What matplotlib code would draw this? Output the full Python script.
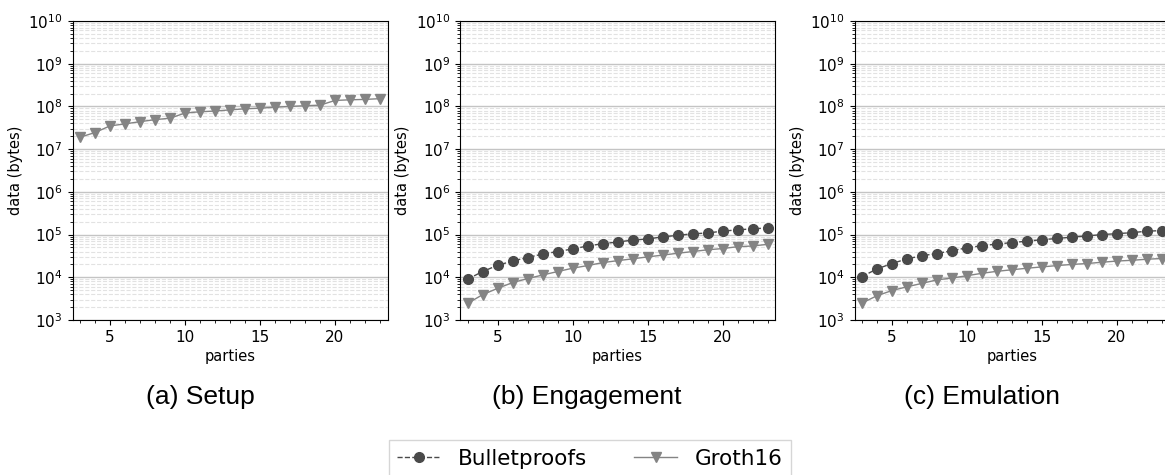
import numpy as np
import matplotlib
matplotlib.use("Agg")
from matplotlib import pyplot as plt
from matplotlib.ticker import LogLocator, MultipleLocator, NullFormatter

# number of parties on the x axis
parties = list(range(3, 24))

# Setup phase: only Groth16 has a setup
setup_groth16 = [1.9e7, 2.45e7, 3.5e7, 3.9e7, 4.4e7, 4.9e7, 5.3e7, 7.0e7, 7.5e7, 7.8e7,
                 8.3e7, 8.8e7, 9.1e7, 9.6e7, 1.0e8, 1.04e8, 1.07e8, 1.38e8, 1.43e8, 1.46e8, 1.52e8]

# Engagement phase
engage_bp = [9.0e3, 1.36e4, 1.9e4, 2.4e4, 2.9e4, 3.5e4, 4.0e4, 4.6e4, 5.4e4, 6.1e4,
             6.7e4, 7.4e4, 7.9e4, 8.8e4, 9.6e4, 1.04e5, 1.09e5, 1.2e5, 1.29e5, 1.36e5, 1.43e5]
engage_groth16 = [2.45e3, 3.9e3, 5.5e3, 7.5e3, 9.3e3, 1.13e4, 1.36e4, 1.63e4, 1.88e4, 2.2e4,
                  2.45e4, 2.7e4, 3.0e4, 3.3e4, 3.65e4, 4.0e4, 4.4e4, 4.7e4, 5.2e4, 5.4e4, 5.9e4]

# Emulation phase
emul_bp = [1.04e4, 1.57e4, 2.1e4, 2.7e4, 3.2e4, 3.6e4, 4.2e4, 4.9e4, 5.5e4, 6.0e4,
           6.5e4, 7.0e4, 7.6e4, 8.1e4, 8.7e4, 9.3e4, 1.0e5, 1.05e5, 1.11e5, 1.2e5, 1.24e5]
emul_groth16 = [2.5e3, 3.7e3, 4.9e3, 6.0e3, 7.2e3, 8.7e3, 9.6e3, 1.09e4, 1.24e4, 1.38e4,
                1.5e4, 1.63e4, 1.75e4, 1.88e4, 2.0e4, 2.1e4, 2.25e4, 2.4e4, 2.5e4, 2.65e4, 2.75e4]

captions = ['(a) Setup', '(b) Engagement', '(c) Emulation']

BP_COLOR = '#4a4a4a'
G16_COLOR = '#848484'

fig = plt.figure(figsize=(11.65, 4.75), dpi=100)

W, H = 1165.0, 475.0
lefts = [72.5, 460.0, 854.5]
caption_x = [200.0, 587.0, 982.0]
ax_w = 315.0
ax_top, ax_bot = 21.0, 320.0

panels = [
    (None, setup_groth16),
    (engage_bp, engage_groth16),
    (emul_bp, emul_groth16),
]

for i, (bp, g16) in enumerate(panels):
    ax = fig.add_axes([lefts[i] / W, 1 - ax_bot / H, ax_w / W, (ax_bot - ax_top) / H])
    if bp is not None:
        ax.plot(parties, bp, linestyle='--', marker='o', color=BP_COLOR,
                markersize=7, linewidth=1, label='Bulletproofs', zorder=3)
    ax.plot(parties, g16, linestyle='-', marker='v', color=G16_COLOR,
            markersize=7, linewidth=1, label='Groth16', zorder=3)

    ax.set_yscale('log')
    ax.set_ylim(1e3, 1e10)
    ax.set_xlim(2.5, 23.5)
    ax.yaxis.set_major_locator(LogLocator(base=10, numticks=20))
    ax.yaxis.set_minor_locator(LogLocator(base=10, subs=np.arange(2, 10), numticks=20))
    ax.yaxis.set_minor_formatter(NullFormatter())
    ax.xaxis.set_major_locator(MultipleLocator(5))
    ax.xaxis.set_minor_locator(MultipleLocator(1))

    ax.grid(True, which='major', axis='y', color='#c4c4c4', linewidth=1)
    ax.grid(True, which='minor', axis='y', color='#e2e2e2', linestyle='--', linewidth=0.8)
    ax.set_axisbelow(True)

    ax.tick_params(labelsize=11)
    ax.set_xlabel('parties', fontsize=10.5, labelpad=3)
    ax.set_ylabel('data (bytes)', fontsize=10.5)

    fig.text(caption_x[i] / W, 1 - 397 / H, captions[i],
             ha='center', va='center', fontsize=19, family='Liberation Sans')

handles, labels = fig.axes[1].get_legend_handles_labels()
leg = fig.legend(handles, labels, loc='upper center', ncol=2, numpoints=1,
                 bbox_to_anchor=(590 / W, 1 - 440 / H), borderaxespad=0, fontsize=15.5,
                 fancybox=False, edgecolor='#cccccc', columnspacing=2.2,
                 handletextpad=0.8, borderpad=0.4)
leg.get_frame().set_linewidth(1)

fig.savefig('out.png', dpi=100)
